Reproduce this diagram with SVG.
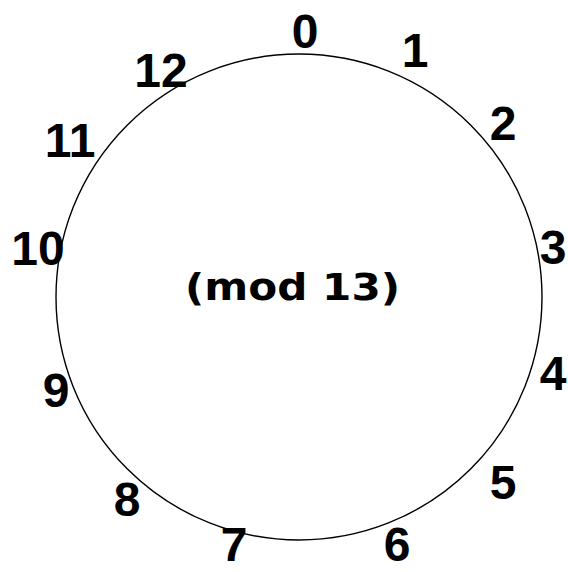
<svg xmlns="http://www.w3.org/2000/svg" width="568" height="572" viewBox="0 0 568 572">
<style>
.n{font-family:"Liberation Sans",Arial,sans-serif;font-weight:bold;font-size:48px;fill:#000;text-anchor:middle}
.m{font-family:"DejaVu Sans",Verdana,sans-serif;font-weight:bold;font-size:38px;fill:#000}
</style>
<rect width="568" height="572" fill="#fff"/>
<g id="connectors">
<circle id="ring" cx="299" cy="297" r="243" fill="none" stroke="#000" stroke-width="1.4"/>
</g>
<g id="center"><text class="m" x="185" y="300" textLength="215" lengthAdjust="spacingAndGlyphs">(mod 13)</text></g>
<g id="n0"><text class="n" x="305" y="48">0</text></g>
<g id="n1"><text class="n" x="415" y="67">1</text></g>
<g id="n2"><text class="n" x="503" y="140">2</text></g>
<g id="n3"><text class="n" x="553" y="264">3</text></g>
<g id="n4"><text class="n" x="553" y="390">4</text></g>
<g id="n5"><text class="n" x="503" y="499">5</text></g>
<g id="n6"><text class="n" x="397" y="561">6</text></g>
<g id="n7"><text class="n" x="234" y="561">7</text></g>
<g id="n8"><text class="n" x="127" y="516">8</text></g>
<g id="n9"><text class="n" x="56" y="407">9</text></g>
<g id="n10"><text class="n" x="38" y="265">10</text></g>
<g id="n11"><text class="n" x="70" y="157">11</text></g>
<g id="n12"><text class="n" x="161" y="87">12</text></g>
</svg>
